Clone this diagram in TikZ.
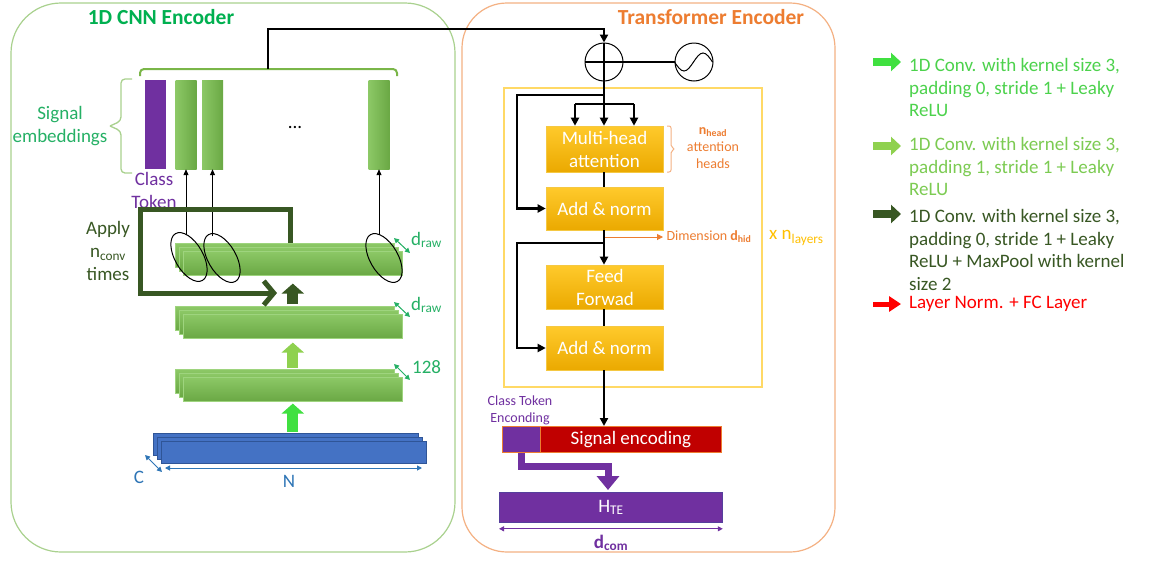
\documentclass[tikz,border=0pt]{standalone}
\usepackage{fontspec}
\setmainfont{Carlito}
\usetikzlibrary{arrows.meta,shapes.geometric,calc}
\definecolor{pgreen}{HTML}{A9D18E}
\definecolor{tgreen}{HTML}{00B050}
\definecolor{egreen}{HTML}{25B065}
\definecolor{purp}{HTML}{7030A0}
\definecolor{darkg}{HTML}{385723}
\definecolor{barT}{HTML}{8CC866}
\definecolor{barB}{HTML}{6AA844}
\definecolor{barE}{HTML}{9ED47E}
\definecolor{brightg}{HTML}{40E040}
\definecolor{lightg}{HTML}{8FD14F}
\definecolor{lg1txt}{HTML}{4CD24C}
\definecolor{lg2txt}{HTML}{7CCB52}
\definecolor{bfill}{HTML}{4472C4}
\definecolor{bdraw}{HTML}{2F5597}
\definecolor{btxt}{HTML}{2E75B6}
\definecolor{orng}{HTML}{ED7D31}
\definecolor{porng}{HTML}{F4B183}
\definecolor{yel}{HTML}{FFC000}
\definecolor{yframe}{HTML}{FFD966}
\definecolor{yT}{HTML}{FFCA2C}
\definecolor{yB}{HTML}{EBA900}
\definecolor{yE}{HTML}{F5C842}
\definecolor{dred}{HTML}{C00000}
\definecolor{lred}{HTML}{FF0000}
\definecolor{braceg}{HTML}{7AB648}
\begin{document}
\begin{tikzpicture}[x=1pt,y=-1pt,
  f19/.style={font=\fontsize{19}{23}\selectfont},
  f14/.style={font=\fontsize{14}{17}\selectfont},
  ftitle/.style={font=\fontsize{21.5}{25}\selectfont\bfseries},
  flegend/.style={font=\fontsize{19}{22.7}\selectfont, anchor=north west, inner sep=0pt, align=left},
  glayer/.style={anchor=north west, minimum width=219pt, minimum height=24pt, inner sep=0pt, top color=barT, bottom color=barB, draw=barE, line width=0.6pt},
  blayer/.style={anchor=north west, minimum width=265pt, minimum height=22pt, inner sep=0pt, fill=bfill, draw=bdraw, line width=0.8pt},
  embbar/.style={minimum width=21pt, minimum height=89pt, inner sep=0pt},
  ell/.style={draw=black, ellipse, minimum width=54pt, minimum height=28pt, inner sep=0pt, rotate=-60, line width=1pt},
  thinarrow/.style={draw=black, line width=0.9pt, -{Triangle[length=6pt,width=5pt]}},
  blk/.style={draw=#1, line width=11pt, -{Triangle[length=10pt,width=22pt]}},
  conn/.style={draw=black, line width=2.6pt, line join=miter},
  tip/.style={-{Triangle[length=8pt,width=8pt]}},
  ybox/.style={minimum width=117pt, inner sep=0pt, top color=yT, bottom color=yB, draw=yE, line width=0.6pt, text=white, f19, align=center},
  dimarrow/.style={line width=1pt, {Triangle[length=5pt,width=5pt]}-{Triangle[length=5pt,width=5pt]}},
  legarrow/.style={draw=#1, line width=8pt, -{Triangle[length=10pt,width=18pt]}}
]
\useasboundingbox (0,0) rectangle (1153,560);
\fill[white] (0,0) rectangle (1153,560);

% ---------- panels ----------
\draw[pgreen, line width=1.2pt, rounded corners=50pt] (11,3) rectangle (455,552);
\draw[porng, line width=1.2pt, rounded corners=45pt] (462,3) rectangle (835,552);
\node[ftitle, text=tgreen] (t1) at (161,17) {1D CNN Encoder};
\node[ftitle, text=orng] (t2) at (711,17) {Transformer Encoder};

% ---------- signal embeddings ----------
\node[embbar, fill=purp] (ct) at (155,124.5) {};
\node[embbar, left color=barT, right color=barB] (e1) at (186,124.5) {};
\node[embbar, left color=barT, right color=barB] (e2) at (212.5,124.5) {};
\node[embbar, left color=barT, right color=barB] (en) at (379,124.5) {};
\node[f19] (dots) at (295,127) {...};
\draw[braceg, line width=2pt, rounded corners=4pt] (140,76) -- (140,69) -- (397,69) -- (397,76);
\draw[pgreen, line width=1.3pt, rounded corners=4pt] (132,79) -- (121,79) -- (121,121) -- (110,126);
\draw[pgreen, line width=1.3pt, rounded corners=4pt] (110,126) -- (121,131) -- (121,173) -- (132,173);
\node[f19, text=egreen, align=center] (selab) at (60,126) {Signal\\embeddings};
\node[f19, text=purp, align=center] (ctlab) at (154,190) {Class\\Token};

% ---------- stacks ----------
\foreach \k/\yy in {1/369, 2/306, 3/243}{
  \foreach \i in {0,1,2}{
    \node[glayer] (s\k-\i) at ({175+4*\i},{\yy+4*\i}) {};
  }
}
\foreach \i in {0,1,2}{
  \node[blayer] (b-\i) at ({153+4*\i},{433+4*\i}) {};
}

% ellipses and arrows to the embeddings
\node[ell] (el1) at (189,257) {};
\node[ell] (el2) at (222,258) {};
\node[ell] (el3) at (384,258) {};
\coordinate (a1) at (186,235);
\coordinate (a2) at (212.5,236);
\coordinate (a3) at (379,235);
\draw[thinarrow] (a1) -- (a1 |- e1.south);
\draw[thinarrow] (a2) -- (a2 |- e2.south);
\draw[thinarrow] (a3) -- (a3 |- en.south);

% loop
\coordinate (L1) at (140,209);
\coordinate (L2) at (277,293);
\draw[darkg, line width=5pt, line join=miter, -{Straight Barb[length=10pt,width=24pt]}] ([xshift=6pt]s3-0.north) |- (L1) |- (L2);
\node[f19, text=darkg, align=center] (apply) at (108,251) {Apply\\n\textsubscript{conv}\\times};

% block arrows
\draw[blk=darkg, shorten <=2pt, shorten >=8pt] (s3-2.south |- s2-0.north) -- (s3-2.south);
\draw[blk=lightg, shorten <=1pt, shorten >=4pt] (s2-2.south |- s1-0.north) -- (s2-2.south);
\draw[blk=brightg, shorten <=1pt, shorten >=2pt] (s1-2.south |- b-0.north) -- (s1-2.south);

% dimension labels
\coordinate (d1a) at (394,238); \coordinate (d1b) at (410,253);
\coordinate (d2a) at (394,302); \coordinate (d2b) at (410,317);
\coordinate (d3a) at (394,364); \coordinate (d3b) at (410,380);
\draw[dimarrow, draw=egreen, fill=egreen] (d1a) -- (d1b);
\draw[dimarrow, draw=egreen, fill=egreen] (d2a) -- (d2b);
\draw[dimarrow, draw=egreen, fill=egreen] (d3a) -- (d3b);
\node[f19, text=egreen, anchor=west, inner sep=0pt] (dr1) at (411,240) {d\textsubscript{raw}};
\node[f19, text=egreen, anchor=west, inner sep=0pt] (dr2) at (411,305) {d\textsubscript{raw}};
\node[f19, text=egreen, anchor=west, inner sep=0pt] (dr3) at (412,367) {128};

\coordinate (ca) at (145,455); \coordinate (cb) at (162,472);
\coordinate (na) at (165,468); \coordinate (nb) at (422,468);
\draw[dimarrow, draw=btxt, fill=btxt] (ca) -- (cb);
\draw[dimarrow, draw=btxt, fill=btxt] (na) -- (nb);
\node[f19, text=btxt] (clab) at (139,477) {C};
\node[f19, text=btxt] (nlab) at (289,481) {N};

% top connector
\node[draw=black, line width=1pt, circle, minimum size=38pt, inner sep=0pt] (plus) at (604,62) {};
\node[draw=black, line width=1pt, circle, minimum size=38pt, inner sep=0pt] (pe) at (694,62) {};
\draw[line width=1pt] (pe.west) sin ++(9.5,9) cos ++(9.5,-9) sin ++(9.5,-9) cos ++(9.5,9);
\coordinate (bj) at (268,69);
\coordinate (topy) at (0,29);
\draw[conn, tip] (bj) -- (bj |- topy) -| (plus.north);
\draw[conn] (plus.west) -- (pe.west);

% ---------- transformer ----------
\node[draw=yframe, line width=1.2pt, minimum width=258pt, minimum height=299pt, inner sep=0pt] (yb) at (633,237.5) {};
\node[ybox, minimum height=46pt] (mha) at (604.5,149) {Multi-head\\attention};
\node[ybox, minimum height=43pt] (an1) at (604.5,208.5) {Add \& norm};
\node[ybox, minimum height=44pt] (ff) at (605,287) {Feed\\Forwad};
\node[ybox, minimum height=44pt] (an2) at (604.5,348) {Add \& norm};

\coordinate (j1) at (604,95);
\coordinate (j2) at (604,104);
\coordinate (qL) at (575,104);
\coordinate (qR) at (634,104);
\coordinate (r1) at (517,95);
\coordinate (j3) at (604,243);
\coordinate (r2) at (517,243);
\draw[conn] (plus.north) -- (plus.south) -- (j2);
\draw[conn] (qL) -- (qR);
\draw[conn, tip] (qL) -- (qL |- mha.north);
\draw[conn, tip] (j2) -- (j2 |- mha.north);
\draw[conn, tip] (qR) -- (qR |- mha.north);
\draw[conn, tip] (j1) -- (r1) |- (an1.west);
\draw[conn] (j2 |- mha.south) -- (j2 |- an1.north);
\draw[conn, tip] (j2 |- an1.south) -- (j2 |- ff.north);
\draw[conn, tip] (j3) -- (r2) |- (an2.west);
\draw[conn] (j2 |- ff.south) -- (j2 |- an2.north);

% n_head brace
\draw[porng, line width=1pt, rounded corners=2pt] (667,126) -- (671,126) -- (671,147) -- (675,149) -- (671,151) -- (671,172) -- (667,172);
\node[f14, text=orng, align=center] (nh) at (713,148) {\textbf{n\textsubscript{head}}\\attention\\heads};

\coordinate (dimS) at (605,237);
\draw[orng, line width=1pt, -{Triangle[length=6pt,width=6pt]}] (dimS) -- ++(58,0) node[anchor=west, inner sep=3pt, f14, text=orng] (dimlab) {Dimension \textbf{d\textsubscript{hid}}};
\node[f19, text=yel, anchor=west, inner sep=0pt] (nl) at (769,238) {x n\textsubscript{layers}};

% outputs
\node[draw=orng, line width=0.8pt, fill=purp, minimum width=38pt, minimum height=26pt, inner sep=0pt, anchor=north west] (ctok) at (502,426) {};
\node[draw=orng, line width=0.8pt, fill=dred, minimum width=181pt, minimum height=26pt, inner sep=0pt, anchor=north west, text=white, f19] (senc) at (540,426) {Signal encoding};
\draw[conn, tip] (j2 |- an2.south) -- (j2 |- senc.north);
\node[f14, text=purp, align=center] (ctelab) at (520,410) {Class Token\\Enconding};
\node[draw=bdraw!40!purp, line width=0.8pt, fill=purp, minimum width=223pt, minimum height=30pt, inner sep=0pt, anchor=north west, text=white, f19] (hte) at (499,492) {H\textsubscript{TE}};
\coordinate (pb) at (608,466);
\draw[purp, line width=7pt, line join=miter, shorten >=2pt, -{Triangle[length=14pt,width=22pt]}] (ctok.south) |- (pb) -- (pb |- hte.north);
\draw[dimarrow, draw=purp, fill=purp] ([yshift=-6pt]hte.south west) -- ([yshift=-6pt]hte.south east);
\node[f19, text=purp] (dcom) at (611,543) {\textbf{d\textsubscript{com}}};

% ---------- legend ----------
\coordinate (lg1a) at (873,62);  \coordinate (lg1b) at (901,62);
\coordinate (lg2a) at (873,146); \coordinate (lg2b) at (901,146);
\coordinate (lg3a) at (873,214); \coordinate (lg3b) at (901,214);
\coordinate (lg4a) at (873,304); \coordinate (lg4b) at (901,304);
\draw[legarrow=brightg] (lg1a) -- (lg1b);
\draw[legarrow=lightg] (lg2a) -- (lg2b);
\draw[legarrow=darkg] (lg3a) -- (lg3b);
\draw[lred, line width=5pt, -{Triangle[length=12pt,width=15pt]}] (lg4a) -- (lg4b);
\node[flegend, text=lg1txt] (lt1) at (909,58) {1D Conv. with kernel size 3,\\padding 0, stride 1 + Leaky\\ReLU};
\node[flegend, text=lg2txt] (lt2) at (909,137) {1D Conv. with kernel size 3,\\padding 1, stride 1 + Leaky\\ReLU};
\node[flegend, text=darkg] (lt3) at (909,209) {1D Conv. with kernel size 3,\\padding 0, stride 1 + Leaky\\ReLU + MaxPool with kernel\\size 2};
\node[flegend, text=lred] (lt4) at (909,296) {Layer Norm. + FC Layer};
\end{tikzpicture}
\end{document}
